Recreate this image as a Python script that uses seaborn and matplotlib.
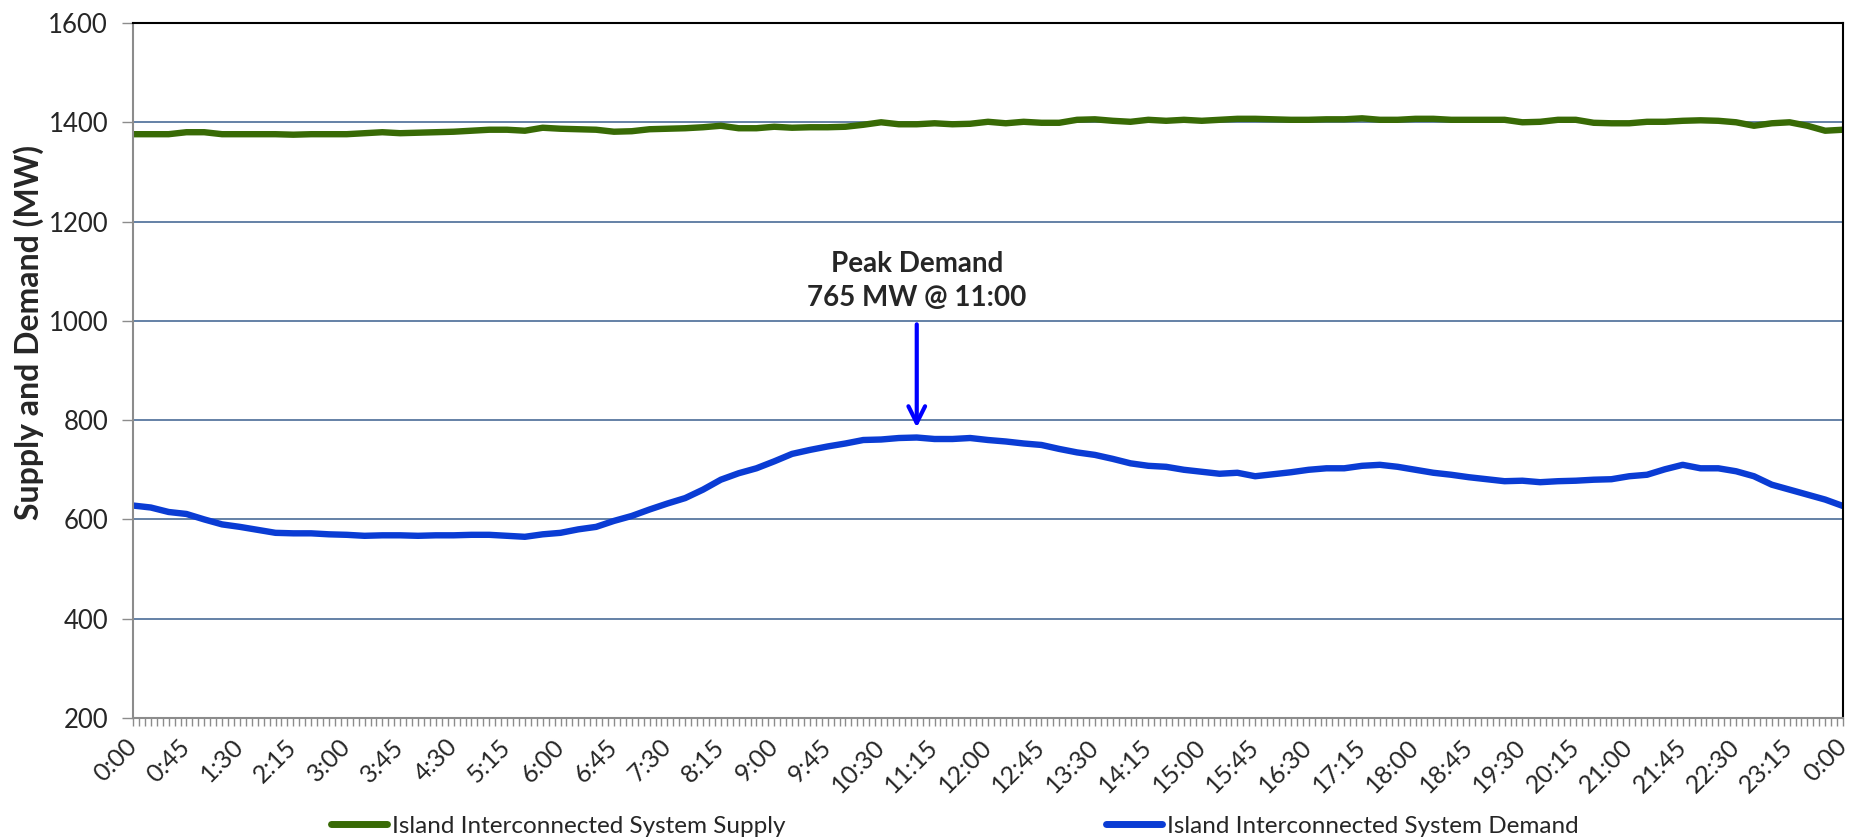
import numpy as np
import pandas as pd
import seaborn as sns
from matplotlib import pyplot as plt
from matplotlib import transforms
from matplotlib.ticker import MultipleLocator, FixedLocator

sns.set_style("white")
plt.rcParams['font.family'] = ['Lato', 'DejaVu Sans']

# 15 minute readings, 0:00 -> 24:00 (MW)
hours = np.arange(97) * 0.25

supply = [
    1376, 1376, 1376, 1380, 1380, 1376, 1376, 1376, 1376, 1375, 1376, 1376,
    1376, 1378, 1380, 1378, 1379, 1380, 1381, 1383, 1385, 1385, 1383, 1389,
    1387, 1386, 1385, 1381, 1382, 1386, 1387, 1388, 1390, 1393, 1388, 1388,
    1391, 1389, 1390, 1390, 1391, 1395, 1400, 1396, 1396, 1398, 1396, 1397,
    1401, 1398, 1401, 1399, 1399, 1405, 1406, 1403, 1401, 1405, 1403, 1405,
    1403, 1405, 1407, 1407, 1406, 1405, 1405, 1406, 1406, 1408, 1405, 1405,
    1407, 1407, 1405, 1405, 1405, 1405, 1400, 1401, 1405, 1405, 1399, 1398,
    1398, 1401, 1401, 1403, 1404, 1403, 1400, 1393, 1398, 1400, 1393, 1383,
    1385,
]

demand = [
    628, 624, 615, 611, 600, 590, 585, 579, 573, 572, 572, 570,
    569, 567, 568, 568, 567, 568, 568, 569, 569, 567, 565, 570,
    573, 580, 585, 597, 607, 620, 632, 643, 660, 680, 693, 703,
    717, 732, 740, 747, 753, 760, 761, 764, 765, 762, 762, 764,
    760, 757, 753, 750, 742, 735, 730, 722, 713, 708, 706, 700,
    696, 692, 694, 687, 691, 695, 700, 703, 703, 708, 710, 706,
    700, 694, 690, 685, 681, 677, 678, 675, 677, 678, 680, 681,
    687, 690, 701, 710, 703, 703, 697, 687, 670, 660, 650, 640,
    627,
]

supply_name = "Island Interconnected System Supply"
demand_name = "Island Interconnected System Demand"
peak_value = 765
peak_hour = 11.0

df = pd.DataFrame({"hour": hours, supply_name: supply, demand_name: demand})
long = df.melt(id_vars="hour", var_name="series", value_name="MW")

fig = plt.figure(figsize=(18.51, 8.39), dpi=100)
ax = fig.add_axes([133 / 1851, 1 - 718 / 839, 1710 / 1851, 695 / 839])

sns.lineplot(data=long, x="hour", y="MW", hue="series",
             palette={supply_name: "#386a05", demand_name: "#0a3cd4"},
             linewidth=4.6, ax=ax, legend=False)

ax.set_xlim(0, 24)
ax.set_ylim(200, 1600)
ax.yaxis.set_major_locator(MultipleLocator(200))
ax.grid(axis="y", color="#3b5f8e", linewidth=1.1)
ax.set_axisbelow(True)

# x ticks: label every 45 min, tick every 5 min
xt = np.arange(0, 24.01, 0.75)
ax.xaxis.set_major_locator(FixedLocator(xt))
xlabels = []
for h in xt:
    m = int(round(h * 60)) % (24 * 60)
    xlabels.append(f"{m // 60}:{m % 60:02d}")
ax.set_xticklabels(xlabels, rotation=45, ha="right", va="center",
                   rotation_mode="anchor")
shift = transforms.ScaledTranslation(-4 / 100, 0, fig.dpi_scale_trans)
for lab in ax.get_xticklabels():
    lab.set_transform(lab.get_transform() + shift)
ax.xaxis.set_minor_locator(MultipleLocator(5 / 60))
ax.tick_params(axis="x", which="both", direction="out", length=6, width=1,
               color="#8c8c8c", bottom=True, labelsize=18, pad=12)
ax.tick_params(axis="y", which="major", direction="out", length=8, width=1,
               color="#8c8c8c", left=True, labelsize=18.5, pad=10)

for s in ["left", "bottom"]:
    ax.spines[s].set_color("#8c8c8c")
    ax.spines[s].set_linewidth(1.5)
for s in ["top", "right"]:
    ax.spines[s].set_color("black")
    ax.spines[s].set_linewidth(1.5)

ax.set_xlabel("")
ax.set_ylabel("Supply and Demand (MW)", fontsize=23, fontweight="bold")
ax.yaxis.set_label_coords(-0.052, 0.555)

# peak annotation
ax.annotate("", xy=(peak_hour, 785), xytext=(peak_hour, 993),
            arrowprops=dict(arrowstyle="->", color="#0000ff", lw=3,
                            mutation_scale=30, shrinkA=0, shrinkB=0))
ax.text(peak_hour, 1080, f"Peak Demand\n{peak_value} MW @ 11:00",
        ha="center", va="center", fontsize=20, fontweight="bold",
        linespacing=1.35)

handles = [plt.Line2D([], [], color="#386a05", lw=5, solid_capstyle="round"),
           plt.Line2D([], [], color="#0a3cd4", lw=5, solid_capstyle="round")]
fig.legend(handles, [supply_name, demand_name], loc="center left",
           bbox_to_anchor=(331 / 1851, 1 - 826 / 839), ncol=2, frameon=False,
           fontsize=17.5, handlelength=2.3, handletextpad=0.2,
           columnspacing=13.2, borderpad=0, borderaxespad=0)

fig.savefig("out.png", dpi=100)
